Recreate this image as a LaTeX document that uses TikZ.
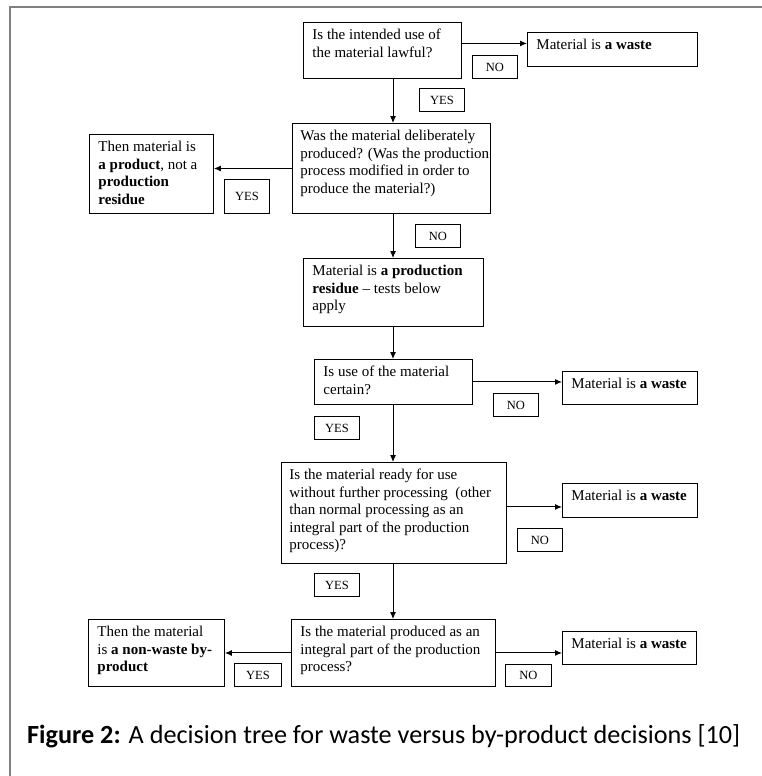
\documentclass[tikz,border=0pt]{standalone}
\usepackage{fontspec}
\setmainfont{Liberation Serif}
\newfontfamily\capfont{Carlito}
\usetikzlibrary{arrows.meta}
% box contents: width, height (pt), lines set from the top
\newcommand{\boxtext}[3]{\parbox[c][#2pt][t]{\dimexpr#1pt-18pt\relax}{\rule{0pt}{17pt}\begin{tabular}[t]{@{}l@{}}#3\end{tabular}}}
\tikzset{
  qbox/.style={draw, line width=0.9pt, anchor=north west, inner xsep=9pt, inner ysep=0pt,
    font=\fontsize{15}{17.6}\selectfont},
  lbl/.style={draw, line width=0.9pt, anchor=north west, inner sep=0pt,
    minimum width=45pt, minimum height=23pt, font=\fontsize{12.5}{14}\selectfont},
  link/.style={->, line width=1pt},
  >={Latex[length=7pt,width=6pt]}
}
\begin{document}
\begin{tikzpicture}[x=1pt,y=-1pt]
\useasboundingbox (0,0) rectangle (762,776);
\draw [gray, line width=2pt] (10,7) rectangle (790,800);
\coordinate (spine) at (393,0);

% questions down the middle
\node (q1) [qbox] at (303,22) {\boxtext{158}{56}{Is the intended use of\\the material lawful?}};
\node (q2) [qbox, inner xsep=8pt] at (292,123) {\boxtext{200}{90}{Was the material deliberately\\produced? (Was the production\\process modified in order to\\produce the material?)}};
\node (r1) [qbox] at (303,258) {\boxtext{180}{68}{Material is \textbf{a production}\\\textbf{residue} -- tests below\\apply}};
\node (q3) [qbox] at (314,359) {\boxtext{158}{45}{Is use of the material\\certain?}};
\node (q4) [qbox, inner xsep=8pt] at (281,462) {\boxtext{227}{101}{Is the material ready for use\\without further processing\ \ (other\\than normal processing as an\\integral part of the production\\process)?}};
\node (q5) [qbox] at (291,619) {\boxtext{204}{67}{Is the material produced as an\\integral part of the production\\process?}};

% outcomes
\node (w1) [qbox] at (527,32) {\boxtext{170}{34}{Material is \textbf{a waste}}};
\node (p1) [qbox] at (89,134) {\boxtext{124}{79}{Then material is\\\textbf{a product}, not a\\\textbf{production}\\\textbf{residue}}};
\node (w2) [qbox] at (562,371) {\boxtext{135}{33}{Material is \textbf{a waste}}};
\node (w3) [qbox] at (562,483) {\boxtext{135}{34}{Material is \textbf{a waste}}};
\node (p2) [qbox] at (88,619) {\boxtext{136}{67}{Then the material\\is \textbf{a non-waste by-}\\\textbf{product}}};
\node (w4) [qbox] at (562,631) {\boxtext{134}{33}{Material is \textbf{a waste}}};

% yes / no tags
\node (no1) [lbl] at (472,55) {NO};
\node (yes1) [lbl] at (419,88) {YES};
\node (yes2) [lbl, minimum height=34pt] at (224,179) {YES};
\node (no2) [lbl] at (415,224) {NO};
\node (no3) [lbl] at (493,393) {NO};
\node (yes3) [lbl] at (314,416) {YES};
\node (no4) [lbl] at (517,528) {NO};
\node (yes4) [lbl] at (314,573) {YES};
\node (yes5) [lbl, minimum width=47pt] at (234,663) {YES};
\node (no5) [lbl, minimum width=46pt, minimum height=22pt] at (505,664) {NO};

\draw [link] (q1.south -| spine) -- (q2.north -| spine);
\draw [link] ([yshift=7pt]q1.east) -- ([yshift=7pt]q1.east -| w1.west);
\draw [link] (q2.west) -- (q2.west -| p1.east);
\draw [link] (q2.south -| spine) -- (r1.north -| spine);
\draw [link] (r1.south -| spine) -- (q3.north -| spine);
\draw [link] (q3.east) -- (q3.east -| w2.west);
\draw [link] (q3.south -| spine) -- (q4.north -| spine);
\draw [link] ([yshift=6pt]q4.east) -- ([yshift=6pt]q4.east -| w3.west);
\draw [link] (q4.south -| spine) -- (q5.north -| spine);
\draw [link] (q5.west) -- (q5.west -| p2.east);
\draw [link] (q5.east) -- (q5.east -| w4.west);

\node (cap) [anchor=base west, inner sep=0pt, font=\capfont\fontsize{26.2}{30}\selectfont] at (27,743)
  {\textbf{Figure 2:} A decision tree for waste versus by-product decisions [10]};
\end{tikzpicture}
\end{document}
